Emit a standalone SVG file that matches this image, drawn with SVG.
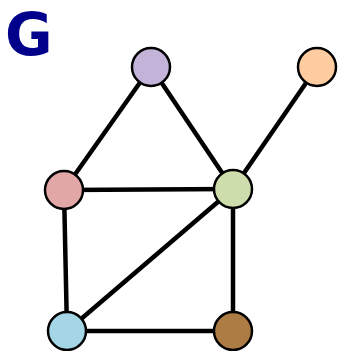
<svg xmlns="http://www.w3.org/2000/svg" width="338" height="351" viewBox="0 0 338 351">
<style>
.e{stroke:#000;stroke-width:4.5;fill:none;stroke-linecap:butt}
.n{stroke:#000;stroke-width:2.5}
.t{font-family:"DejaVu Sans",sans-serif;font-weight:bold;font-size:58px;fill:#00008B}
</style>
<rect width="338" height="351" fill="#fff"/>
<text class="t" x="5" y="55">G</text>
<g id="edges">
<line class="e" x1="151" y1="67" x2="64" y2="190"/>
<line class="e" x1="151" y1="67" x2="233" y2="189"/>
<line class="e" x1="317" y1="67" x2="233" y2="189"/>
<line class="e" x1="64" y1="190" x2="233" y2="189"/>
<line class="e" x1="64" y1="190" x2="67" y2="331"/>
<line class="e" x1="233" y1="189" x2="67" y2="331"/>
<line class="e" x1="233" y1="189" x2="233" y2="331"/>
<line class="e" x1="67" y1="331" x2="233" y2="331"/>
</g>
<g id="n_purple"><circle class="n" cx="151" cy="67" r="19" fill="#C3B3D8"/></g>
<g id="n_orange"><circle class="n" cx="317" cy="67" r="19" fill="#FFCCA1"/></g>
<g id="n_pink"><circle class="n" cx="64" cy="190" r="19" fill="#E2A8A8"/></g>
<g id="n_green"><circle class="n" cx="233" cy="189" r="19" fill="#CDDDAC"/></g>
<g id="n_blue"><circle class="n" cx="67" cy="331" r="19" fill="#A5D6E6"/></g>
<g id="n_brown"><circle class="n" cx="233" cy="331" r="19" fill="#AD7C45"/></g>
</svg>
